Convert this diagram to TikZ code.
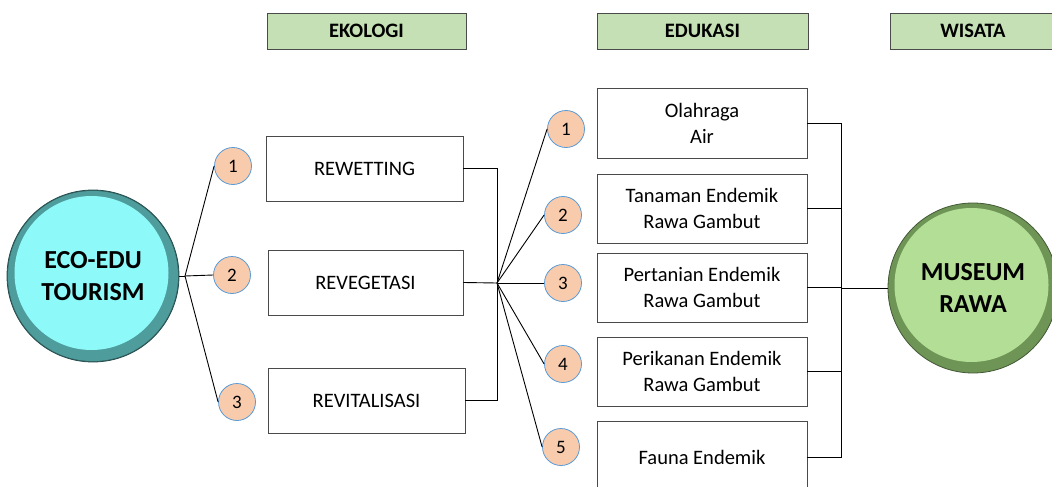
\documentclass[tikz,border=0pt]{standalone}
\usepackage{fontspec}
\setmainfont{Carlito}
\definecolor{hdrfill}{HTML}{C5E0B4}
\definecolor{boxline}{HTML}{4A4A4A}
\definecolor{numfill}{HTML}{F8CBAD}
\definecolor{numline}{HTML}{5B9BD5}
\definecolor{ecomain}{HTML}{8DF9F9}
\definecolor{ecorim}{HTML}{4E9C9C}
\definecolor{musmain}{HTML}{B3DE95}
\definecolor{musrim}{HTML}{6E9456}
\begin{document}
\begin{tikzpicture}[x=1pt,y=-1pt,
  hdr/.style={draw=boxline, line width=0.9pt, fill=hdrfill, minimum height=36pt, inner sep=0pt, font=\fontsize{20.5}{24}\selectfont\bfseries},
  itembox/.style={draw=boxline, line width=0.9pt, fill=white, inner sep=0pt, align=center, font=\fontsize{20.5}{26}\selectfont},
  num/.style={circle, draw=numline, line width=0.8pt, fill=numfill, minimum size=37pt, inner sep=0pt, font=\fontsize{19}{22}\selectfont},
  conn/.style={draw=black, line width=0.9pt},
  bigtext/.style={align=center, font=\fontsize{26}{32}\selectfont\bfseries}]
\useasboundingbox (0,0) rectangle (1052,487);
\clip (0,0) rectangle (1052,487);

% headers
\node[hdr, minimum width=199pt] (hekol) at (366.5,31) {EKOLOGI};
\node[hdr, minimum width=211pt] (hedu) at (702.5,31) {EDUKASI};
\node[hdr, minimum width=166pt] (hwis) at (973,31) {WISATA};

% big circles
\fill[ecorim!70!black] (93,276) circle (86pt);
\fill[ecorim] (93,276) circle (85pt);
\fill[ecomain] (91.5,273) circle (77pt);
\draw[line width=0.8pt, ecorim!50!black] (93,276) circle (86pt);
\node[bigtext, circle, minimum size=172pt] (eco) at (93,276) {ECO-EDU\\TOURISM};

\fill[musrim] (973,288) circle (85pt);
\fill[musmain] (971.5,285) circle (77pt);
\draw[line width=0.8pt, musrim!60!black] (973,288) circle (85pt);
\node[bigtext, circle, minimum size=170pt] (mus) at (973,288) {MUSEUM\\RAWA};

% left numbered circles
\node[num] (a1) at (233,166) {1};
\node[num] (a2) at (232,275) {2};
\node[num] (a3) at (237,402) {3};

% ecology boxes
\node[itembox, minimum width=197pt, minimum height=65pt] (rew) at (364.5,168.5) {REWETTING};
\node[itembox, minimum width=195pt, minimum height=65pt] (rvg) at (365.5,282.5) {REVEGETASI};
\node[itembox, minimum width=197pt, minimum height=65pt] (rvt) at (366.5,400.5) {REVITALISASI};

% education circles
\node[num] (b1) at (566,129) {1};
\node[num] (b2) at (563,215) {2};
\node[num] (b3) at (563,283) {3};
\node[num] (b4) at (563,364) {4};
\node[num] (b5) at (561,447) {5};

% education boxes
\node[itembox, minimum width=210pt, minimum height=70pt] (e1) at (702,123) {Olahraga\\Air};
\node[itembox, minimum width=210pt, minimum height=69pt] (e2) at (702,208.5) {Tanaman Endemik\\Rawa Gambut};
\node[itembox, minimum width=210pt, minimum height=69pt] (e3) at (702,287.5) {Pertanian Endemik\\Rawa Gambut};
\node[itembox, minimum width=210pt, minimum height=69pt] (e4) at (702,371.5) {Perikanan Endemik\\Rawa Gambut};
\node[itembox, minimum width=210pt, minimum height=72pt] (e5) at (702,457) {Fauna Endemik};

% junctions
\coordinate (j1) at (185,276);
\coordinate (j2) at (497,283);
\coordinate (j3) at (841,288);

% connectors left
\draw[conn] (eco.east) -- (j1);
\draw[conn] (j1) -- (a1.west);
\draw[conn] (j1) -- (a2.west);
\draw[conn] (j1) -- (a3.west);

% bracket ecology
\draw[conn] (rew.east) -- (rew.east -| j2) -- (rvt.east -| j2) -- (rvt.east);
\draw[conn] (rvg.east) -- (j2);

% fan to education circles
\draw[conn] (j2) -- (b1.west);
\draw[conn] (j2) -- (b2.west);
\draw[conn] (j2) -- (b3.west);
\draw[conn] (j2) -- (b4.west);
\draw[conn] (j2) -- (b5.west);

% bracket education
\draw[conn] (e1.east) -- (e1.east -| j3) -- (e5.east -| j3) -- (e5.east);
\draw[conn] (e2.east) -- (e2.east -| j3);
\draw[conn] (e3.east) -- (e3.east -| j3);
\draw[conn] (e4.east) -- (e4.east -| j3);
\draw[conn] (j3) -- (mus.west);
\end{tikzpicture}
\end{document}
